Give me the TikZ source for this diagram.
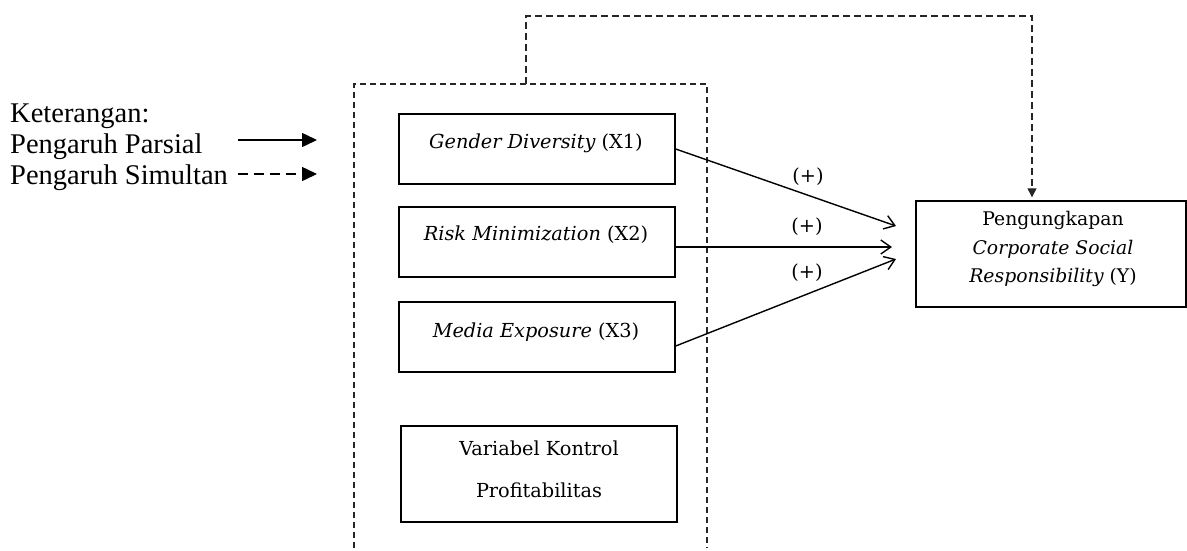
\documentclass[tikz,border=0pt]{standalone}
\usepackage{fontspec}
\setmainfont{Liberation Serif}
\newfontfamily\boxfont{DejaVu Serif}
\usetikzlibrary{arrows.meta}
\begin{document}
\begin{tikzpicture}[x=1pt,y=-1pt,
  legtext/.style={anchor=base west,inner sep=0pt,font=\fontsize{28.5}{32}\selectfont},
  varbox/.style={draw=black,line width=1.4pt,minimum width=276pt,minimum height=70pt,inner sep=0pt},
  boxtext/.style={inner sep=0pt,font=\boxfont\fontsize{19.3}{22}\selectfont},
  grp/.style={draw=black!85,line width=1.3pt,dash pattern=on 6pt off 4pt},
  rel/.style={draw=black,line width=1.4pt,-{Straight Barb[length=10pt,width=14pt,line width=1.4pt]}},
  sign/.style={inner sep=0pt,font=\boxfont\fontsize{19.3}{22}\selectfont}]
\useasboundingbox (0,0) rectangle (1187,550);
% legend
\node[legtext] (ket) at (10,122) {Keterangan:};
\node[legtext] (parsial) at (10,153) {Pengaruh Parsial};
\node[legtext] (simultan) at (10,184) {Pengaruh Simultan};
\coordinate (ps) at (238,140);
\coordinate (pe) at (317,140);
\coordinate (ss) at (238,174);
\coordinate (se) at (317,174);
\draw[line width=1.5pt,-{Triangle[length=15pt,width=14pt]}] (ps) -- (pe);
\draw[line width=1.5pt,dash pattern=on 10pt off 6pt,-{Triangle[length=15pt,width=14pt]}] (ss) -- (se);
% variable boxes
\node[varbox] (x1) at (537,149) {};
\node[boxtext] (x1t) at (536,143) {\itshape Gender Diversity \upshape(X1)};
\node[varbox] (x2) at (537,242) {};
\node[boxtext] (x2t) at (536,235) {\itshape Risk Minimization \upshape(X2)};
\node[varbox] (x3) at (537,337) {};
\node[boxtext] (x3t) at (536,332) {\itshape Media Exposure \upshape(X3)};
\node[varbox,minimum height=96pt] (ctl) at (539,474) {};
\node[boxtext,align=center,font=\boxfont\fontsize{19.3}{42}\selectfont] (ctlt) at (539,469) {Variabel Kontrol\\Profitabilitas};
% dependent box
\node[varbox,minimum width=270pt,minimum height=106pt] (y) at (1051,254) {};
\node[boxtext,align=center,font=\boxfont\fontsize{18.8}{28.5}\selectfont] (yt) at (1053,249) {Pengungkapan\\\itshape Corporate Social\\\itshape Responsibility \upshape(Y)};
% group dashed frame
\coordinate (gbl) at (354,548);
\coordinate (gtl) at (354,84);
\coordinate (gtr) at (707,84);
\coordinate (gbr) at (707,548);
\coordinate (gtop) at (526,84);
\draw[grp] (gbl) -- (gtl) -- (gtr) -- (gbr);
% simultaneous arrow
\coordinate (c1) at (526,16);
\coordinate (c2) at (1032,16);
\draw[grp,dash pattern=on 7pt off 4pt,-{Triangle[length=9pt,width=9pt]}] (gtop) -- (c1) -- (c2) -- ([yshift=3pt]c2 |- y.north) ;
% partial arrows
\coordinate (t1) at (896,226);
\coordinate (t2) at (892,247);
\coordinate (t3) at (896,259);
\draw[rel] (x1.east) -- (t1);
\draw[rel] ([yshift=-5pt]x2.east) -- (t2);
\draw[rel] ([yshift=-9pt]x3.east) -- (t3);
\node[sign] (s1) at (808,177) {(+)};
\node[sign] (s2) at (807,227) {(+)};
\node[sign] (s3) at (807,273) {(+)};
\end{tikzpicture}
\end{document}
